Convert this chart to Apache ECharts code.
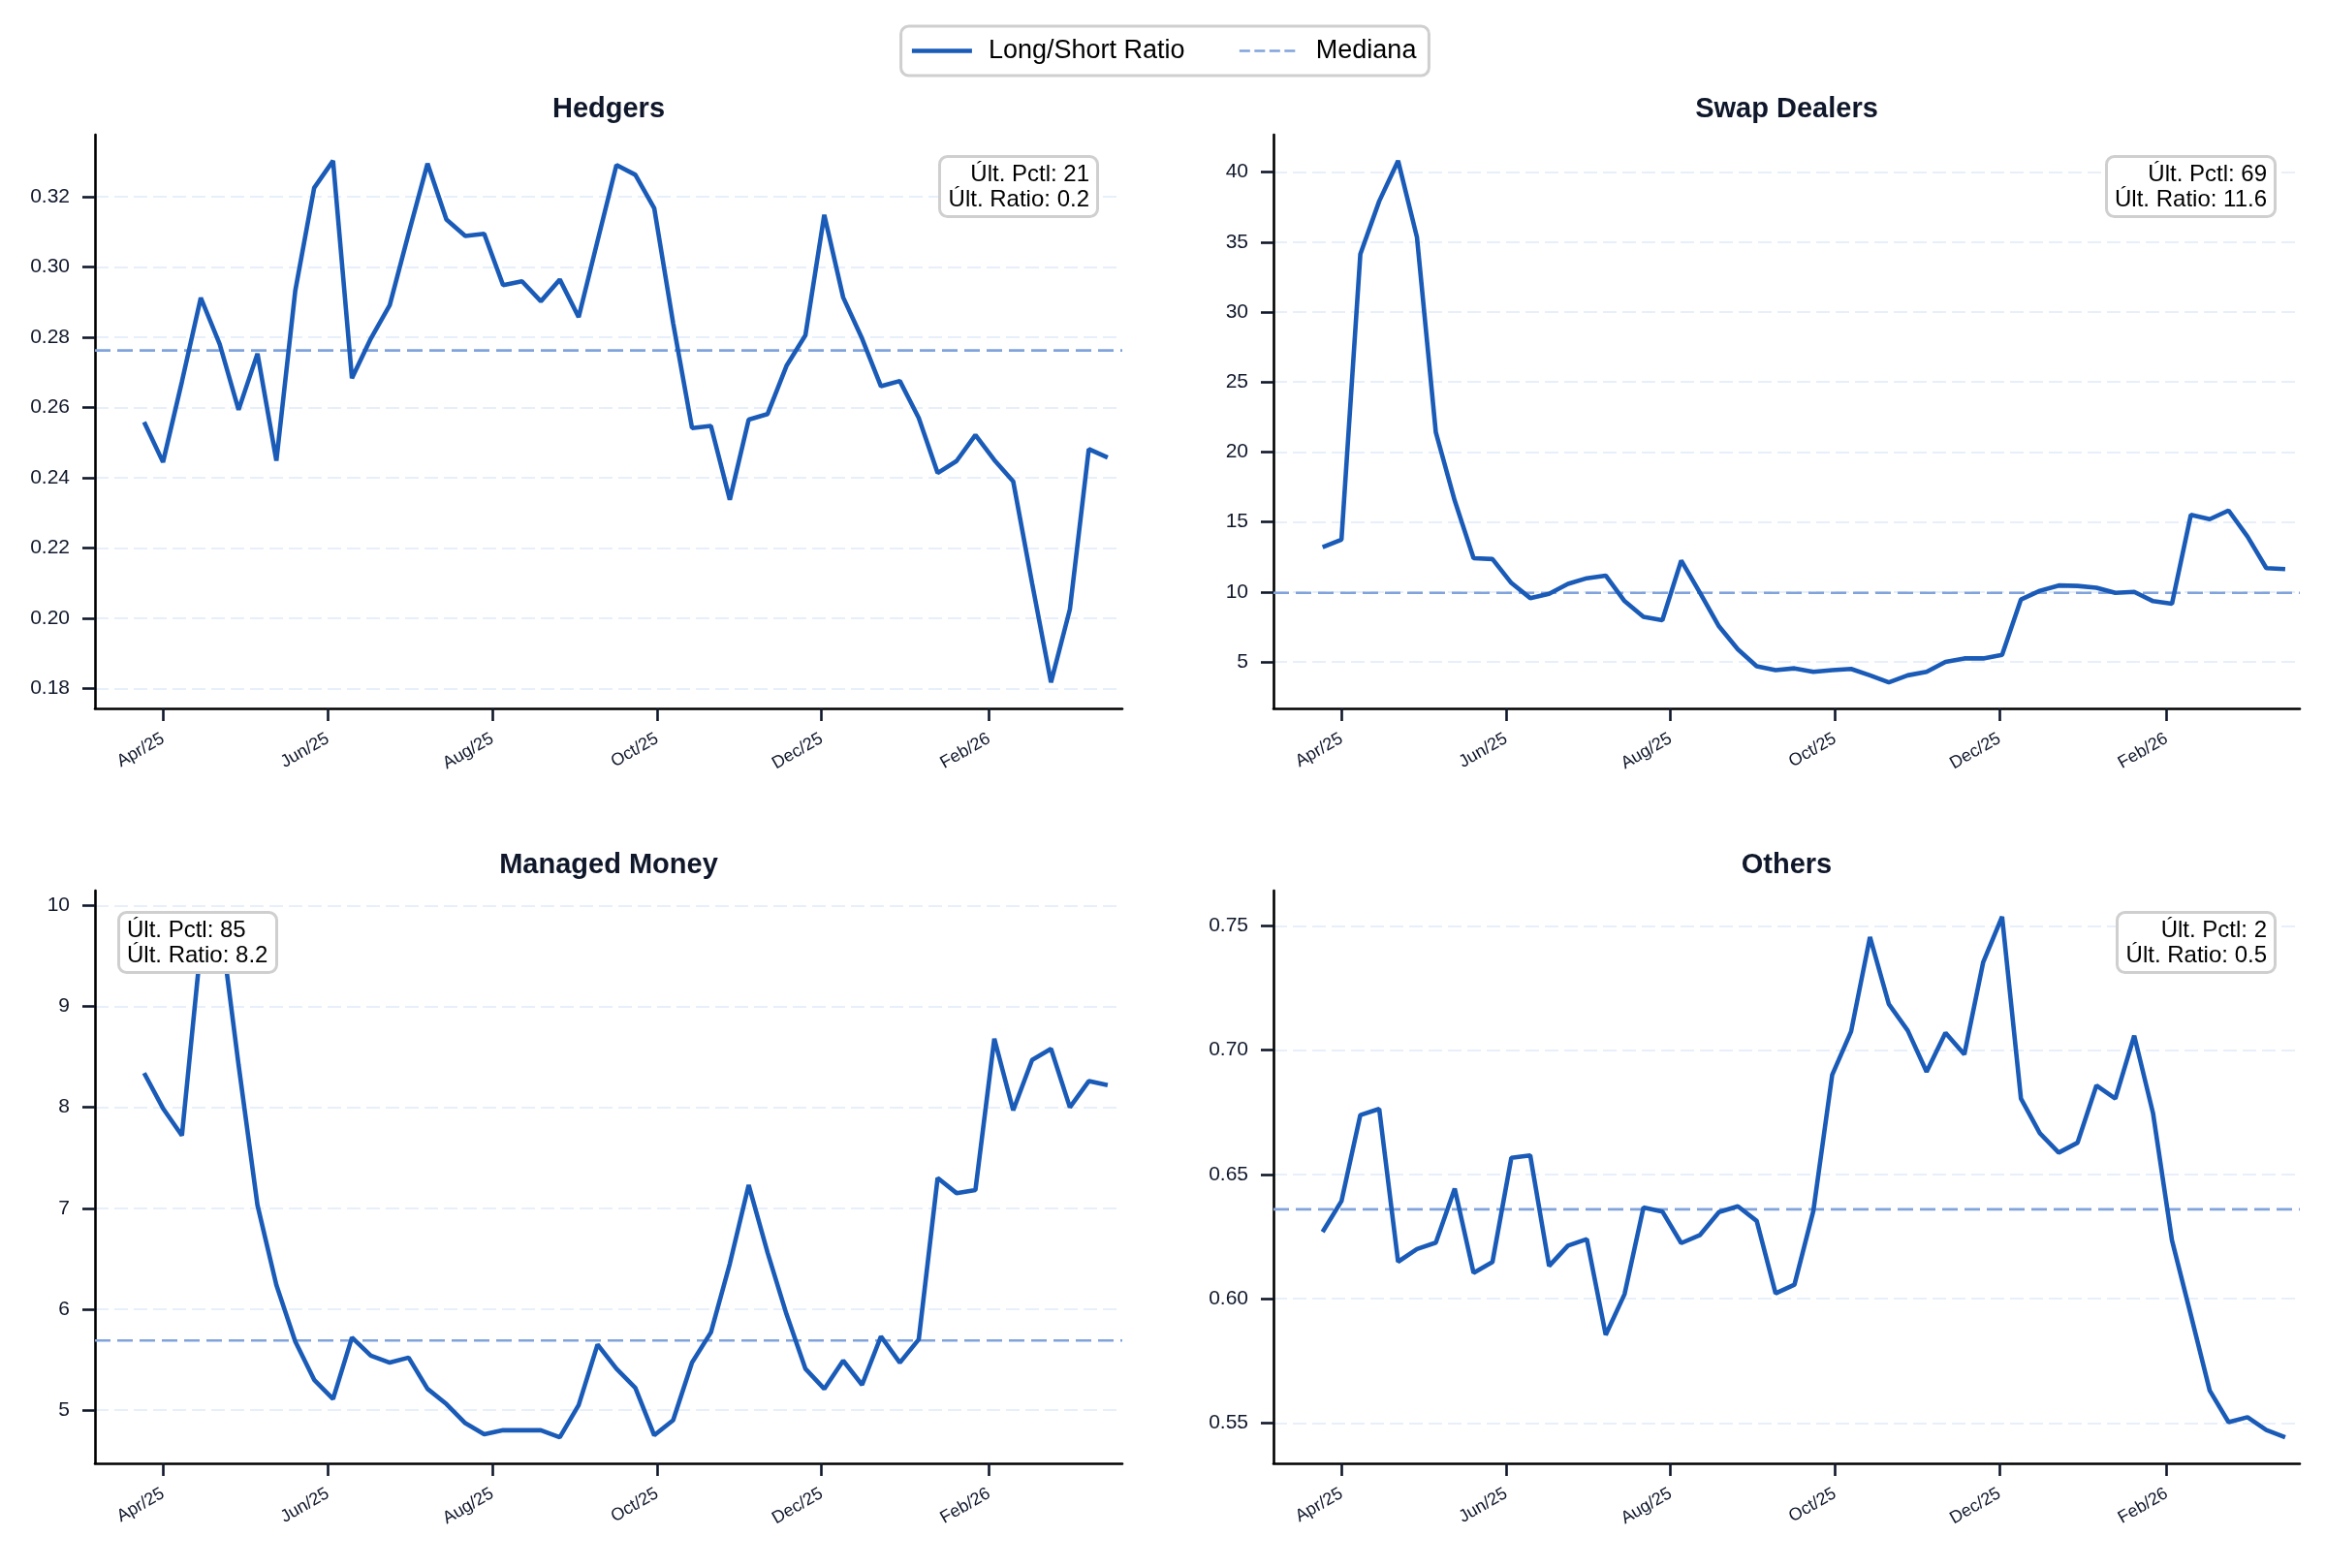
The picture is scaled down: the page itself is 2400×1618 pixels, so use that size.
<!DOCTYPE html>
<html>
<head>
<meta charset="utf-8">
<script src="https://cdn.jsdelivr.net/npm/echarts@6/dist/echarts.min.js"></script>
<style>
  html, body { margin: 0; padding: 0; background: #fff; }
  #chart { width: 2400px; height: 1618px; }
</style>
</head>
<body>
<div id="chart"></div>
<script>
// weekly report dates (Tuesdays)
const dates = [
  '2025-03-25', '2025-04-01', '2025-04-08', '2025-04-15', '2025-04-22', '2025-04-29',
  '2025-05-06', '2025-05-13', '2025-05-20', '2025-05-27', '2025-06-03', '2025-06-10',
  '2025-06-17', '2025-06-24', '2025-07-01', '2025-07-08', '2025-07-15', '2025-07-22',
  '2025-07-29', '2025-08-05', '2025-08-12', '2025-08-19', '2025-08-26', '2025-09-02',
  '2025-09-09', '2025-09-16', '2025-09-23', '2025-09-30', '2025-10-07', '2025-10-14',
  '2025-10-21', '2025-10-28', '2025-11-04', '2025-11-11', '2025-11-18', '2025-11-25',
  '2025-12-02', '2025-12-09', '2025-12-16', '2025-12-23', '2025-12-30', '2026-01-06',
  '2026-01-13', '2026-01-20', '2026-01-27', '2026-02-03', '2026-02-10', '2026-02-17',
  '2026-02-24', '2026-03-03', '2026-03-10', '2026-03-17'
];

const hedgers = [
  0.2558, 0.2444, 0.2673, 0.2912, 0.2780, 0.2593, 0.2753, 0.2448, 0.2932, 0.3225,
  0.3302, 0.2683, 0.2796, 0.2891, 0.3095, 0.3294, 0.3135, 0.3088, 0.3094, 0.2948,
  0.2959, 0.2902, 0.2964, 0.2857, 0.3074, 0.3290, 0.3262, 0.3167, 0.2840, 0.2541,
  0.2547, 0.2337, 0.2565, 0.2581, 0.2718, 0.2805, 0.3148, 0.2913, 0.2796, 0.2660,
  0.2675, 0.2570, 0.2413, 0.2447, 0.2521, 0.2450, 0.2389, 0.2099, 0.1817, 0.2025,
  0.2481, 0.2457
];
const swapDealers = [
  13.2, 13.74, 34.14, 37.92, 40.81, 35.35, 21.4, 16.53, 12.41, 12.35,
  10.64, 9.56, 9.87, 10.58, 10.98, 11.17, 9.34, 8.22, 7.98, 12.25,
  9.93, 7.54, 5.9, 4.69, 4.41, 4.54, 4.29, 4.41, 4.5, 4.04,
  3.54, 4.04, 4.29, 5.0, 5.25, 5.25, 5.5, 9.46, 10.08, 10.46,
  10.43, 10.3, 9.93, 10.0, 9.34, 9.15, 15.51, 15.2, 15.82, 13.96,
  11.7, 11.63
];
const managedMoney = [
  8.34, 7.99, 7.72, 9.6, 9.89, 8.42, 7.03, 6.24, 5.68, 5.30,
  5.11, 5.72, 5.54, 5.47, 5.52, 5.21, 5.06, 4.87, 4.76, 4.80,
  4.80, 4.80, 4.73, 5.05, 5.65, 5.41, 5.22, 4.75, 4.90, 5.47,
  5.77, 6.45, 7.23, 6.56, 5.95, 5.41, 5.21, 5.49, 5.25, 5.73,
  5.47, 5.70, 7.30, 7.15, 7.18, 8.68, 7.97, 8.47, 8.58, 8.00,
  8.26, 8.22
];
const others = [
  0.6269, 0.6393, 0.6739, 0.6764, 0.6149, 0.6200, 0.6226, 0.6443, 0.6104, 0.6148,
  0.6567, 0.6577, 0.6132, 0.6214, 0.6240, 0.5855, 0.6019, 0.6367, 0.6351, 0.6224,
  0.6257, 0.6349, 0.6372, 0.6313, 0.6022, 0.6057, 0.6353, 0.6901, 0.7075, 0.7455,
  0.7185, 0.7079, 0.6913, 0.7070, 0.6983, 0.7354, 0.7537, 0.6805, 0.6666, 0.6588,
  0.6628, 0.6858, 0.6805, 0.7058, 0.6745, 0.6235, 0.5935, 0.5631, 0.5504, 0.5524,
  0.5472, 0.5443
];

const panelTitles = ['Hedgers', 'Swap Dealers', 'Managed Money', 'Others'];
const medians = [0.2762, 9.93, 5.69, 0.636];
const lastPctl = [21, 69, 85, 2];

const xLimits = ['2025-03-06T19:00:00', '2026-03-22T10:00:00'];
const xTicks = ['2025-04-01', '2025-06-01', '2025-08-01', '2025-10-01', '2025-12-01', '2026-02-01'];
const hedgersTicks = [0.18, 0.20, 0.22, 0.24, 0.26, 0.28, 0.30, 0.32];
const swapTicks = [5, 10, 15, 20, 25, 30, 35, 40];
const managedTicks = [5, 6, 7, 8, 9, 10];
const othersTicks = [0.55, 0.60, 0.65, 0.70, 0.75];

const monthNames = ['Jan', 'Feb', 'Mar', 'Apr', 'May', 'Jun', 'Jul', 'Aug', 'Sep', 'Oct', 'Nov', 'Dec'];
const toTs = s => new Date(s.length > 10 ? s : s + 'T00:00:00').getTime();

const FONT = '"Liberation Sans", Arial, Helvetica, sans-serif';
const LINE_COLOR = '#1a5bb8';
const MEDIAN_COLOR = '#80a3db';
const TEXT_COLOR = '#0f172a';

const ts = dates.map(toTs);
const xMin = toTs(xLimits[0]);
const xMax = toTs(xLimits[1]);

const panels = [
  { values: hedgers, ticks: hedgersTicks, dec: 2 },
  { values: swapDealers, ticks: swapTicks, dec: 0 },
  { values: managedMoney, ticks: managedTicks, dec: 0 },
  { values: others, ticks: othersTicks, dec: 2 }
];

// axes boxes in px
const boxes = [
  { left: 98, top: 139, width: 1060, height: 592 },
  { left: 1314, top: 139, width: 1059, height: 592 },
  { left: 98, top: 919, width: 1060, height: 591 },
  { left: 1314, top: 919, width: 1059, height: 591 }
];

const grid = [], xAxis = [], yAxis = [], series = [], title = [];

panels.forEach((p, i) => {
  const b = boxes[i];
  const lo = Math.min(...p.values), hi = Math.max(...p.values);
  const pad = (hi - lo) * 0.05;

  grid.push({ left: b.left, top: b.top, width: b.width, height: b.height, outerBoundsMode: 'none', containLabel: false });

  // dates are plotted as timestamps on a value axis so the month ticks can be placed exactly
  xAxis.push({
    type: 'value', gridIndex: i, min: xMin, max: xMax, scale: true,
    axisLine: { show: true, onZero: false, lineStyle: { color: '#000', width: 2.6 } },
    axisTick: { show: true, length: 13, lineStyle: { color: TEXT_COLOR, width: 2.6 }, customValues: xTicks.map(toTs) },
    axisLabel: {
      customValues: xTicks.map(toTs),
      rotate: 30, margin: 30, fontSize: 18, fontFamily: FONT, color: TEXT_COLOR,
      formatter: v => {
        const d = new Date(v);
        return monthNames[d.getMonth()] + '/' + String(d.getFullYear()).slice(2);
      }
    },
    splitLine: { show: false }
  });

  yAxis.push({
    type: 'value', gridIndex: i, min: lo - pad, max: hi + pad, scale: true,
    axisLine: { show: true, onZero: false, lineStyle: { color: '#000', width: 2.6 } },
    axisTick: { show: true, length: 13, lineStyle: { color: TEXT_COLOR, width: 2.6 }, customValues: p.ticks },
    axisLabel: {
      customValues: p.ticks, margin: 26, fontSize: 21, fontFamily: FONT, color: TEXT_COLOR,
      formatter: v => v.toFixed(p.dec)
    },
    splitLine: { show: true, lineStyle: { color: '#e7effb', width: 2, type: [14, 6] } }
  });

  series.push({
    name: 'Long/Short Ratio', type: 'line', xAxisIndex: i, yAxisIndex: i,
    data: p.values.map((v, k) => [ts[k], v]),
    symbol: 'none', showSymbol: false, z: 3,
    lineStyle: { color: LINE_COLOR, width: 4.6 },
    itemStyle: { color: LINE_COLOR }
  });
  series.push({
    name: 'Mediana', type: 'line', xAxisIndex: i, yAxisIndex: i,
    data: [[xMin, medians[i]], [xMax, medians[i]]],
    symbol: 'none', showSymbol: false, z: 2, silent: true,
    lineStyle: { color: MEDIAN_COLOR, width: 2.6, type: [16, 7] },
    itemStyle: { color: MEDIAN_COLOR }
  });

  title.push({
    text: panelTitles[i], left: b.left + b.width / 2, top: b.top - 41, textAlign: 'center', padding: 0,
    textStyle: { fontFamily: FONT, fontSize: 29, fontWeight: 'bold', color: TEXT_COLOR }
  });

  const label = 'Últ. Pctl: ' + lastPctl[i] + '\nÚlt. Ratio: ' + p.values[p.values.length - 1].toFixed(1);
  const leftSide = i === 2;
  title.push({
    text: label, top: b.top + 22, padding: [6, 9, 5, 9],
    left: leftSide ? b.left + 24 : b.left + b.width - 25 - 18,
    backgroundColor: '#fff', borderColor: '#cfcfcf', borderWidth: 3, borderRadius: 8,
    textAlign: leftSide ? 'left' : 'right',
    textStyle: { fontFamily: FONT, fontSize: 24, fontWeight: 'normal', color: '#000', lineHeight: 26 }
  });
});

const chart = echarts.init(document.getElementById('chart'), null, { renderer: 'canvas' });
chart.setOption({
  animation: false,
  backgroundColor: '#fff',
  title: title,
  legend: {
    data: [
      { name: 'Long/Short Ratio', lineStyle: { width: 4.6, color: LINE_COLOR } },
      { name: 'Mediana', lineStyle: { width: 2.6, color: MEDIAN_COLOR, type: [11, 4.5] } }
    ],
    top: 27, left: 'center',
    padding: [12, 13, 12, 9],
    itemWidth: 62, itemHeight: 2, itemGap: 55,
    itemStyle: { opacity: 0 },
    backgroundColor: '#fff', borderColor: '#cfcfcf', borderWidth: 3, borderRadius: 8,
    textStyle: { fontFamily: FONT, fontSize: 27, color: '#000', padding: [0, 0, 0, 12] }
  },
  grid: grid,
  xAxis: xAxis,
  yAxis: yAxis,
  series: series
});
</script>
</body>
</html>
